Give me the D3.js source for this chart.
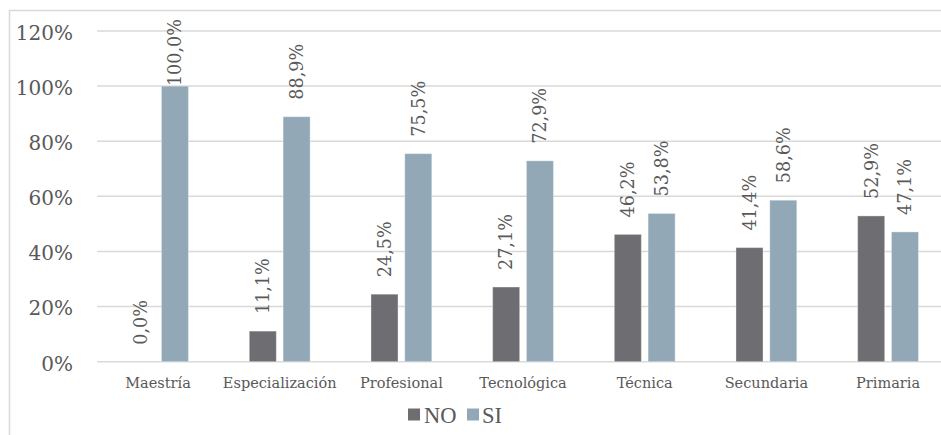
<!DOCTYPE html>
<html>
<head>
<meta charset="utf-8">
<script src="https://cdn.jsdelivr.net/npm/d3@7/dist/d3.min.js"></script>
<style>
  html, body { margin: 0; padding: 0; background: #fff; }
  svg { display: block; }
</style>
</head>
<body>
<div id="chart"></div>
<script>
// Nivel educativo y respuesta (NO / SI)
const categories = ["Maestría", "Especialización", "Profesional", "Tecnológica", "Técnica", "Secundaria", "Primaria"];
const seriesNames = ["NO", "SI"];
const valuesNO = [0.0, 11.1, 24.5, 27.1, 46.2, 41.4, 52.9];
const valuesSI = [100.0, 88.9, 75.5, 72.9, 53.8, 58.6, 47.1];
const yTicks = [0, 20, 40, 60, 80, 100, 120];

const colors = { NO: "#6e6d72", SI: "#92a8b7" };
const textColor = "#595959";
const gridColor = "#d9d9d9";
const serifFont = "DejaVu Serif, serif";
const legendFont = "Liberation Serif, Tinos, Times New Roman, DejaVu Serif Condensed, serif";

const W = 941, H = 435;
const svg = d3.select("#chart").append("svg").attr("width", W).attr("height", H);

// Chart frame
svg.append("rect")
  .attr("x", 9.5).attr("y", 10.5)
  .attr("width", 940).attr("height", 440)
  .attr("fill", "none").attr("stroke", gridColor).attr("stroke-width", 1.5);

const plotLeft = 97.2, plotRight = 948.9;
const y = d3.scaleLinear().domain([0, 120]).range([361.7, 31]);
const x = d3.scaleBand().domain(categories).range([plotLeft, plotRight])
  .paddingInner(0.5).paddingOuter(0.25);
const xs = d3.scaleBand().domain(seriesNames).range([0, x.bandwidth()])
  .paddingInner(0.2).paddingOuter(0);

// Gridlines
svg.append("g").selectAll("line").data(yTicks).join("line")
  .attr("x1", plotLeft).attr("x2", plotRight)
  .attr("y1", d => y(d)).attr("y2", d => y(d))
  .attr("stroke", gridColor).attr("stroke-width", 1.5);

// Y axis labels
const yAxis = d3.axisLeft(y).tickValues(yTicks).tickFormat(d => d + "%").tickSize(0).tickPadding(0);
const gy = svg.append("g").attr("transform", "translate(73,0)").call(yAxis);
gy.select(".domain").remove();
gy.selectAll("text")
  .attr("fill", textColor)
  .attr("font-family", serifFont)
  .attr("font-size", 20)
  .attr("dy", "0.42em");

// X axis labels
const xAxis = d3.axisBottom(x).tickSize(0).tickPadding(0);
const gx = svg.append("g").attr("transform", "translate(0,374)").call(xAxis);
gx.select(".domain").remove();
gx.selectAll("text")
  .attr("fill", textColor)
  .attr("font-family", serifFont)
  .attr("font-size", 14.5)
  .attr("dy", "0.95em");

// Bars
const rows = categories.map((c, i) => ({ cat: c, NO: valuesNO[i], SI: valuesSI[i] }));
const flat = [];
rows.forEach(r => seriesNames.forEach(s => flat.push({ cat: r.cat, s, v: r[s] })));

svg.append("g").selectAll("rect").data(flat).join("rect")
  .attr("x", d => x(d.cat) + xs(d.s))
  .attr("y", d => y(d.v))
  .attr("width", xs.bandwidth())
  .attr("height", d => y(0) - y(d.v))
  .attr("fill", d => colors[d.s])
  .attr("stroke", "#ffffff").attr("stroke-opacity", 0.35).attr("stroke-width", 1);

// Data labels (rotated, kept inside the plot area)
const fmt = v => v.toFixed(1).replace(".", ",") + "%";
const labels = svg.append("g").selectAll("text").data(flat).join("text")
  .attr("fill", textColor)
  .attr("font-family", serifFont)
  .attr("font-size", 17.6)
  .attr("text-anchor", "start")
  .attr("dy", "0.36em")
  .text(d => fmt(d.v));

labels.each(function(d) {
  const len = this.getComputedTextLength();
  let start = y(d.v) - 17;
  if (start - len < 19) start = 19 + len;
  const cx = x(d.cat) + xs(d.s) + xs.bandwidth() / 2;
  d3.select(this).attr("transform", `translate(${cx},${start}) rotate(-90)`);
});

// Legend
const legend = svg.append("g");
const legendItems = [
  { name: "NO", sx: 408, tx: 424 },
  { name: "SI", sx: 467, tx: 482 }
];
legend.selectAll("rect").data(legendItems).join("rect")
  .attr("x", d => d.sx).attr("y", 408.5)
  .attr("width", 12).attr("height", 12)
  .attr("fill", d => colors[d.name]);
legend.selectAll("text").data(legendItems).join("text")
  .attr("x", d => d.tx).attr("y", 423)
  .attr("fill", textColor)
  .style("font-family", legendFont)
  .attr("font-size", 22.5)
  .text(d => d.name);
</script>
</body>
</html>
